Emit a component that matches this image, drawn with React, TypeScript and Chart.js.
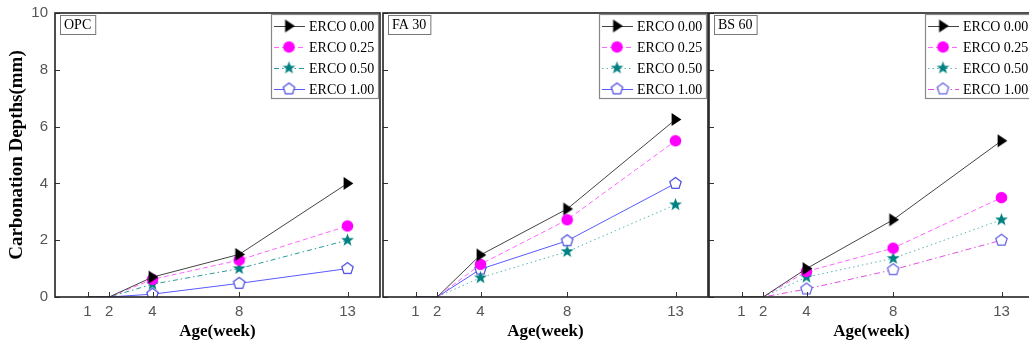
import React, { useEffect, useRef } from "react";
import { Chart, registerables } from "chart.js";
Chart.register(...registerables);

const weeks = [1, 2, 4, 8, 13];
const xTickValues = [1, 2, 4, 8, 13];
const seriesNames = ["ERCO 0.00", "ERCO 0.25", "ERCO 0.50", "ERCO 1.00"];
const panelNames = ["OPC", "FA 30", "BS 60"];
const yTitle = "Carbonation Depths(mm)";
const xTitle = "Age(week)";

const opc000 = [0, 0, 0.7, 1.5, 4.0];
const opc025 = [0, 0, 0.62, 1.3, 2.5];
const opc050 = [0, 0, 0.45, 1.0, 2.0];
const opc100 = [0, 0, 0.1, 0.48, 1.0];

const fa000 = [0, 0, 1.48, 3.1, 6.25];
const fa025 = [0, 0, 1.15, 2.72, 5.5];
const fa050 = [0, 0, 0.68, 1.6, 3.25];
const fa100 = [0, 0, 0.98, 1.98, 4.0];

const bs000 = [0, 0, 1.0, 2.72, 5.5];
const bs025 = [0, 0, 0.9, 1.72, 3.5];
const bs050 = [0, 0, 0.7, 1.36, 2.72];
const bs100 = [0, 0, 0.28, 0.96, 2.0];

const SERIF = "'Liberation Serif', 'Times New Roman', serif";
const SANS = "'Liberation Sans Narrow', 'Liberation Sans', Arial, sans-serif";

type Kind = "tri" | "circle" | "star" | "pent";

function makeMarker(kind: Kind, fill: string, stroke: string, scale = 1): HTMLCanvasElement {
  const s = Math.ceil(15 * scale) + 2;
  const c = document.createElement("canvas");
  c.width = s;
  c.height = s;
  const ctx = c.getContext("2d")!;
  const cx = s / 2;
  const cy = s / 2;
  ctx.fillStyle = fill;
  ctx.strokeStyle = stroke;
  ctx.lineWidth = 1.2;
  ctx.beginPath();
  if (kind === "tri") {
    const r = 6.5 * scale;
    ctx.moveTo(cx - r * 0.6, cy - r);
    ctx.lineTo(cx + r * 0.9, cy);
    ctx.lineTo(cx - r * 0.6, cy + r);
    ctx.closePath();
    ctx.fill();
  } else if (kind === "circle") {
    ctx.arc(cx, cy, 5.8 * scale, 0, Math.PI * 2);
    ctx.fill();
  } else if (kind === "star") {
    const ro = 6.8 * scale;
    const ri = 2.8 * scale;
    for (let i = 0; i < 10; i++) {
      const r = i % 2 === 0 ? ro : ri;
      const a = -Math.PI / 2 + (i * Math.PI) / 5;
      const x = cx + r * Math.cos(a);
      const y = cy + r * Math.sin(a);
      if (i === 0) ctx.moveTo(x, y);
      else ctx.lineTo(x, y);
    }
    ctx.closePath();
    ctx.fill();
  } else {
    const r = 6 * scale;
    for (let i = 0; i < 5; i++) {
      const a = -Math.PI / 2 + (i * 2 * Math.PI) / 5;
      const x = cx + r * Math.cos(a);
      const y = cy + r * Math.sin(a);
      if (i === 0) ctx.moveTo(x, y);
      else ctx.lineTo(x, y);
    }
    ctx.closePath();
    ctx.fill();
    ctx.stroke();
  }
  return c;
}

type SeriesStyle = {
  color: string;
  dash: number[];
  kind: Kind;
  fill: string;
  stroke: string;
};

const styleSolidBlack: SeriesStyle = { color: "#444", dash: [], kind: "tri", fill: "#000", stroke: "#000" };
const styleDashPink: SeriesStyle = { color: "#ff66ff", dash: [5, 3], kind: "circle", fill: "#ff00ff", stroke: "#ff00ff" };
const styleDashDotTeal: SeriesStyle = { color: "#2a9a9a", dash: [5, 3, 1.5, 3], kind: "star", fill: "#008080", stroke: "#008080" };
const styleDotTeal: SeriesStyle = { color: "#5ab4b4", dash: [1.5, 3], kind: "star", fill: "#008080", stroke: "#008080" };
const styleSolidBlue: SeriesStyle = { color: "#5a5aff", dash: [], kind: "pent", fill: "#ffffff", stroke: "#4a4ae0" };
const styleDashDotMagenta: SeriesStyle = { color: "#e050e0", dash: [6, 3, 1.5, 3], kind: "pent", fill: "#ffffff", stroke: "#6060e0" };

const panelSeries = [
  [opc000, opc025, opc050, opc100],
  [fa000, fa025, fa050, fa100],
  [bs000, bs025, bs050, bs100],
];
const panelStyles = [
  [styleSolidBlack, styleDashPink, styleDashDotTeal, styleSolidBlue],
  [styleSolidBlack, styleDashPink, styleDotTeal, styleSolidBlue],
  [styleSolidBlack, styleDashPink, styleDotTeal, styleDashDotMagenta],
];

const decorPlugin = {
  id: "panelDecor",
  afterDatasetsDraw(chart: any, _args: any, opts: any) {
    const { ctx, chartArea: a, scales } = chart;
    ctx.save();
    // inward ticks
    ctx.strokeStyle = "#333";
    ctx.lineWidth = 1;
    ctx.setLineDash([]);
    scales.x.ticks.forEach((t: any) => {
      const px = Math.round(scales.x.getPixelForValue(t.value)) + 0.5;
      ctx.beginPath();
      ctx.moveTo(px, a.bottom);
      ctx.lineTo(px, a.bottom - 5);
      ctx.stroke();
    });
    scales.y.ticks.forEach((t: any) => {
      const py = Math.round(scales.y.getPixelForValue(t.value)) + 0.5;
      ctx.beginPath();
      ctx.moveTo(a.left, py);
      ctx.lineTo(a.left + 5, py);
      ctx.stroke();
    });
    // frame
    ctx.strokeStyle = "#222";
    ctx.lineWidth = 1.6;
    ctx.strokeRect(a.left, a.top, a.right - a.left, a.bottom - a.top);

    // panel label
    ctx.font = "14px " + SERIF;
    ctx.textBaseline = "middle";
    ctx.textAlign = "left";
    const lw = ctx.measureText(opts.label).width;
    const lx = a.left + 5;
    const ly = a.top + 2;
    ctx.fillStyle = "#fff";
    ctx.fillRect(lx, ly, lw + 8, 19);
    ctx.strokeStyle = "#777";
    ctx.lineWidth = 1;
    ctx.strokeRect(lx + 0.5, ly + 0.5, lw + 8, 19);
    ctx.fillStyle = "#000";
    ctx.fillText(opts.label, lx + 4, ly + 10);

    // legend
    const bw = 107;
    const bh = 84;
    const bx = a.right - 2 - bw;
    const by = a.top + 1;
    ctx.fillStyle = "#fff";
    ctx.fillRect(bx, by, bw, bh);
    ctx.strokeStyle = "#888";
    ctx.lineWidth = 1.2;
    ctx.strokeRect(bx + 0.5, by + 0.5, bw, bh);
    chart.data.datasets.forEach((ds: any, i: number) => {
      const ry = by + 12 + i * 21;
      ctx.strokeStyle = ds.borderColor;
      ctx.lineWidth = 1;
      ctx.setLineDash(ds.borderDash || []);
      ctx.beginPath();
      ctx.moveTo(bx + 3, ry + 0.5);
      ctx.lineTo(bx + 34, ry + 0.5);
      ctx.stroke();
      ctx.setLineDash([]);
      const m = ds.legendMarker as HTMLCanvasElement;
      ctx.drawImage(m, bx + 18 - m.width / 2, ry - m.height / 2);
      ctx.fillStyle = "#000";
      ctx.font = "14px " + SERIF;
      ctx.textBaseline = "middle";
      ctx.fillText(ds.label, bx + 38, ry + 1);
    });
    ctx.restore();
  },
};

function Panel(props: { index: number; left: number; width: number; showY: boolean; yWidth: number }) {
  const ref = useRef<HTMLCanvasElement>(null);
  useEffect(() => {
    const { index, showY, yWidth } = props;
    const datasets = panelSeries[index].map((vals, i) => {
      const st = panelStyles[index][i];
      const big = makeMarker(st.kind, st.fill, st.stroke, 1);
      return {
        label: seriesNames[i],
        data: weeks.map((w, j) => ({ x: w, y: vals[j] })),
        borderColor: st.color,
        borderDash: st.dash,
        borderWidth: 1,
        pointStyle: big,
        pointRadius: weeks.map((w) => (w <= 2 ? 0 : 6)),
        pointHoverRadius: 0,
        legendMarker: big,
        tension: 0,
        fill: false,
      } as any;
    });
    const chart = new Chart(ref.current!, {
      type: "line",
      data: { datasets },
      plugins: [decorPlugin as any],
      options: {
        animation: false,
        responsive: false,
        events: [],
        layout: { autoPadding: false, padding: { top: 13, right: 1, left: 0, bottom: 0 } },
        plugins: {
          legend: { display: false },
          tooltip: { enabled: false },
          panelDecor: { label: panelNames[index] },
        } as any,
        scales: {
          x: {
            type: "linear",
            min: -0.5,
            max: 14.5,
            afterBuildTicks: (scale: any) => {
              scale.ticks = xTickValues.map((v) => ({ value: v }));
            },
            afterFit: (scale: any) => {
              scale.height = 50;
              scale.paddingLeft = 0;
              scale.paddingRight = 0;
            },
            grid: { display: false, drawTicks: false },
            border: { display: false },
            ticks: {
              color: "#555",
              font: { family: SANS, size: 15 },
              padding: 6,
              autoSkip: false,
              maxRotation: 0,
              callback: (v: any) => String(v),
            },
            title: {
              display: true,
              text: xTitle,
              color: "#000",
              font: { family: SERIF, size: 17, weight: "bold" },
              padding: { top: 0, bottom: 5 },
            },
          },
          y: {
            type: "linear",
            min: 0,
            max: 10,
            afterBuildTicks: (scale: any) => {
              scale.ticks = [0, 2, 4, 6, 8, 10].map((v) => ({ value: v }));
            },
            afterFit: (scale: any) => {
              scale.width = yWidth;
              scale.paddingTop = 0;
              scale.paddingBottom = 0;
            },
            grid: { display: false, drawTicks: false },
            border: { display: false },
            ticks: {
              display: showY,
              color: "#555",
              font: { family: SANS, size: 15 },
              padding: 7,
            },
            title: {
              display: showY,
              text: yTitle,
              color: "#000",
              font: { family: SERIF, size: 19, weight: "bold" },
              padding: { top: 6, bottom: 0 },
            },
          },
        },
      } as any,
    });
    return () => chart.destroy();
  }, []);
  return (
    <canvas
      ref={ref}
      width={props.width}
      height={347}
      style={{ position: "absolute", left: props.left, top: 0, width: props.width, height: 347 }}
    />
  );
}

export default function App() {
  return (
    <div
      style={{
        position: "absolute",
        left: 0,
        top: 0,
        width: 1029,
        height: 347,
        overflow: "hidden",
        background: "#fff",
      }}
    >
      <Panel index={0} left={0} width={381} showY={true} yWidth={55} />
      <Panel index={1} left={381} width={328} showY={false} yWidth={2} />
      <Panel index={2} left={708} width={327} showY={false} yWidth={1} />
    </div>
  );
}
